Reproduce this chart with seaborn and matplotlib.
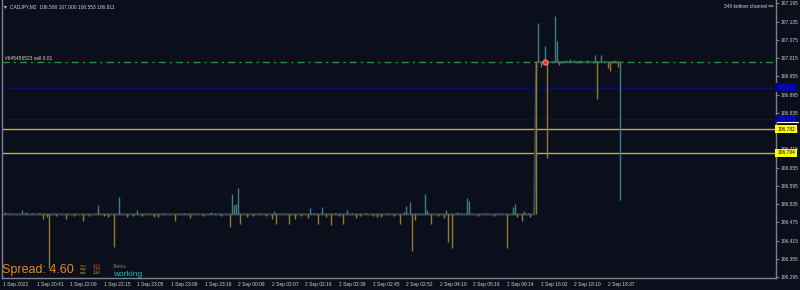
import matplotlib
matplotlib.use("Agg")
import matplotlib.pyplot as plt
import seaborn as sns
import pandas as pd

# ---------------- data ----------------
symbol_title = "CADJPY,M2  106.500 107.000 106.553 106.811"
indicator_label = "349 keltner channel"
order_label = "#645456523 sell 0.01"

date_labels = ["1 Sep 2022", "1 Sep 20:41", "1 Sep 22:09", "1 Sep 22:15", "1 Sep 23:05",
               "1 Sep 23:09", "1 Sep 23:16", "2 Sep 00:06", "2 Sep 02:07", "2 Sep 02:16",
               "2 Sep 02:39", "2 Sep 02:45", "2 Sep 02:52", "2 Sep 04:10", "2 Sep 05:16",
               "2 Sep 06:14", "2 Sep 16:02", "2 Sep 18:10", "2 Sep 18:37"]
date_label_bars = [0, 16, 32, 48, 64, 80, 96, 112, 128, 144, 160, 176, 192, 208, 224,
                   240, 256, 272, 288]

price_ticks = [107.195, 107.135, 107.075, 107.015, 106.955, 106.895, 106.835, 106.775,
               106.715, 106.655, 106.595, 106.535, 106.475, 106.415, 106.355, 106.295]

# close of every bar (flat market, then a jump)
close = [106.501] * 254 + [107.002] * 41

# bullish (teal) bars: index, high above close, low below close (in 0.001 JPY)
teal_bar = [1, 3, 9, 11, 14, 17, 45, 55, 64, 76, 86, 99, 101, 109, 110, 111, 112, 122, 129,
            133, 146, 148, 152, 158, 164, 166, 173, 183, 191, 192, 194, 198, 201, 202, 211,
            216, 218, 221, 222, 230, 237, 243, 244, 248, 250,
            255, 258, 263, 264, 268, 270, 272, 275, 278, 282, 285, 291, 294]
teal_hi = [7, 5, 13, 7, 4, 5, 30, 56, 13, 5, 4, 7, 5, 66, 30, 33, 86, 4, 10,
           4, 20, 5, 23, 5, 13, 5, 4, 4, 8, 26, 40, 5, 66, 13, 13,
           7, 4, 53, 43, 4, 4, 23, 33, 10, 4,
           129, 53, 152, 69, 7, 10, 7, 7, 7, 23, 23, 7, 0]
teal_lo = [0] * 57 + [452]

# bearish (gold) bars
gold_bar = [19, 21, 22, 25, 30, 34, 38, 41, 48, 50, 53, 59, 62, 66, 72, 74, 82, 89, 95, 104,
            108, 113, 116, 119, 125, 128, 130, 136, 139, 142, 145, 150, 154, 156, 160, 162,
            168, 170, 176, 178, 180, 186, 189, 195, 196, 204, 207, 210, 212, 214, 226, 234,
            240, 245, 247, 251,
            254, 256, 259, 265, 283, 288, 289, 293]
gold_lo = [16, 10, 178, 5, 16, 5, 23, 4, 5, 7, 106, 7, 5, 4, 7, 7, 23, 13, 5, 5,
           43, 30, 10, 5, 5, 16, 30, 30, 16, 5, 13, 30, 7, 36, 5, 33,
           13, 5, 5, 10, 10, 5, 33, 122, 20, 33, 5, 13, 92, 112, 4, 5,
           112, 10, 23, 7,
           501, 16, 314, 10, 122, 20, 30, 16]
gold_hi = [0] * 64

sell_bar = 258
sell_price = 107.002
blue_levels = [106.918, 106.815]
yellow_levels = [106.782, 106.704]

spread_value = "4.60"
stats_names = ["max:", "avg:", "min:"]
stats_values = ["4.60", "1.18", "1.20"]

# ---------------- styling ----------------
BG = "#0b0f1b"
TEAL = "#3e7f88"
GOLD = "#927a36"
AXC = "#7c828c"
TXT = "#d2d2d2"
W, H = 800, 290

sns.set_style("dark", {"axes.facecolor": BG, "figure.facecolor": BG})
plt.rcParams["font.family"] = ["Liberation Sans", "DejaVu Sans"]

fig = plt.figure(figsize=(W / 100, H / 100), dpi=100)
ax = fig.add_axes([2 / W, 12 / H, 774 / W, 278 / H])
ax.set_facecolor(BG)

df_close = pd.DataFrame({"bar": range(len(close)), "close": close})
sns.lineplot(data=df_close, x="bar", y="close", ax=ax, color="#3b484c", lw=1.6,
             zorder=2, legend=False)

rows = []
for b, h, l in zip(teal_bar, teal_hi, teal_lo):
    rows.append((b, close[b] + h / 1000, close[b] - l / 1000, TEAL))
for b, h, l in zip(gold_bar, gold_hi, gold_lo):
    rows.append((b, close[b] + h / 1000, close[b] - l / 1000, GOLD))
bars = pd.DataFrame(rows, columns=["bar", "high", "low", "color"])
ax.vlines(bars["bar"], bars["low"], bars["high"], colors=bars["color"], lw=1.0,
          zorder=3)

# horizontal levels
ax.axhline(sell_price, color="#1f9b2a", lw=1.0, dashes=(5, 3, 1.5, 3), zorder=4)
for lv in blue_levels:
    ax.axhline(lv, color="#0b0b74", lw=0.7, zorder=1)
for lv in yellow_levels:
    ax.axhline(lv, color="#b4b43c", lw=1.0, zorder=1)

sns.scatterplot(x=[sell_bar], y=[sell_price], ax=ax, s=14, color="#ff2a2a",
                edgecolor="#ffa0a0", linewidth=0.6, zorder=6, legend=False)

ax.set_xlim(-0.48, 368.1)
ax.set_ylim(106.2917, 107.2065)
ax.set_xlabel("")
ax.set_ylabel("")
ax.grid(False)

for s in ["left", "bottom", "right"]:
    ax.spines[s].set_visible(True)
    ax.spines[s].set_color(AXC)
    ax.spines[s].set_linewidth(1.0)
ax.spines["top"].set_visible(False)

ax.yaxis.tick_right()
ax.set_yticks(price_ticks)
ax.set_yticklabels([f"{p:.3f}" for p in price_ticks])
ax.set_xticks(date_label_bars)
ax.set_xticklabels(date_labels, ha="left")
ax.tick_params(axis="both", which="both", direction="out", length=2, width=0.8,
               colors=AXC, labelcolor=TXT, labelsize=3.5, pad=1)
ax.tick_params(axis="y", left=False, right=True)

# price-label boxes on the right scale
ytr = ax.get_yaxis_transform()
for lv in yellow_levels:
    ax.text(1.0015, lv, f"{lv:.3f}", transform=ytr, ha="left", va="center", fontsize=3.5,
            color="black", clip_on=False, zorder=10,
            bbox=dict(boxstyle="square,pad=0.35", fc="#ffff00", ec="none"))
for lv in blue_levels:
    ax.text(1.0015, lv, f"{lv:.3f}", transform=ytr, ha="left", va="center", fontsize=3.5,
            color="#1c1cc0", clip_on=False, zorder=10,
            bbox=dict(boxstyle="square,pad=0.35", fc="#0000a0", ec="none"))
fig.add_artist(plt.Line2D([777 / W, 798 / W], [1 - 122 / H, 1 - 122 / H],
                          color="white", lw=0.8))


def px(x, y):
    return x / W, 1 - y / H


# overlay texts
fig.text(*px(4, 7), "\u25be", fontsize=4, color=TXT, va="center", ha="left")
fig.text(*px(10, 7), symbol_title, fontsize=3.5, color=TXT, va="center", ha="left")
fig.text(*px(767, 6), indicator_label, fontsize=3.5, color=TXT, va="center", ha="right")
fig.add_artist(plt.Circle(px(771, 6), 2.3 / W, transform=fig.transFigure, fill=False,
                          ec="#a0a0a0", lw=0.5))
fig.text(*px(5, 58), order_label, fontsize=3.5, color=TXT, va="center", ha="left")

fig.text(*px(2, 270), f"Spread: {spread_value}", fontsize=9, color="#e8861a",
         va="center", ha="left")
name_cols = ["#e0501a", "#d89a18", "#c8b41e"]
val_cols = ["#ff2a2a", "#e08a18", "#d0c020"]
for k, (nm, vl) in enumerate(zip(stats_names, stats_values)):
    yy = 265.7 + 3.5 * k
    fig.text(*px(80, yy), nm, fontsize=2.8, color=name_cols[k], va="center", ha="left")
    fig.text(*px(93, yy), vl, fontsize=2.8, color=val_cols[k], va="center", ha="left")
fig.text(*px(113, 266), "Status", fontsize=3.5, color="#808080", va="center", ha="left")
fig.text(*px(113, 274), "working", fontsize=6, color="#1fb8c8", va="center", ha="left")

fig.savefig("out.png", dpi=100, facecolor=BG)
